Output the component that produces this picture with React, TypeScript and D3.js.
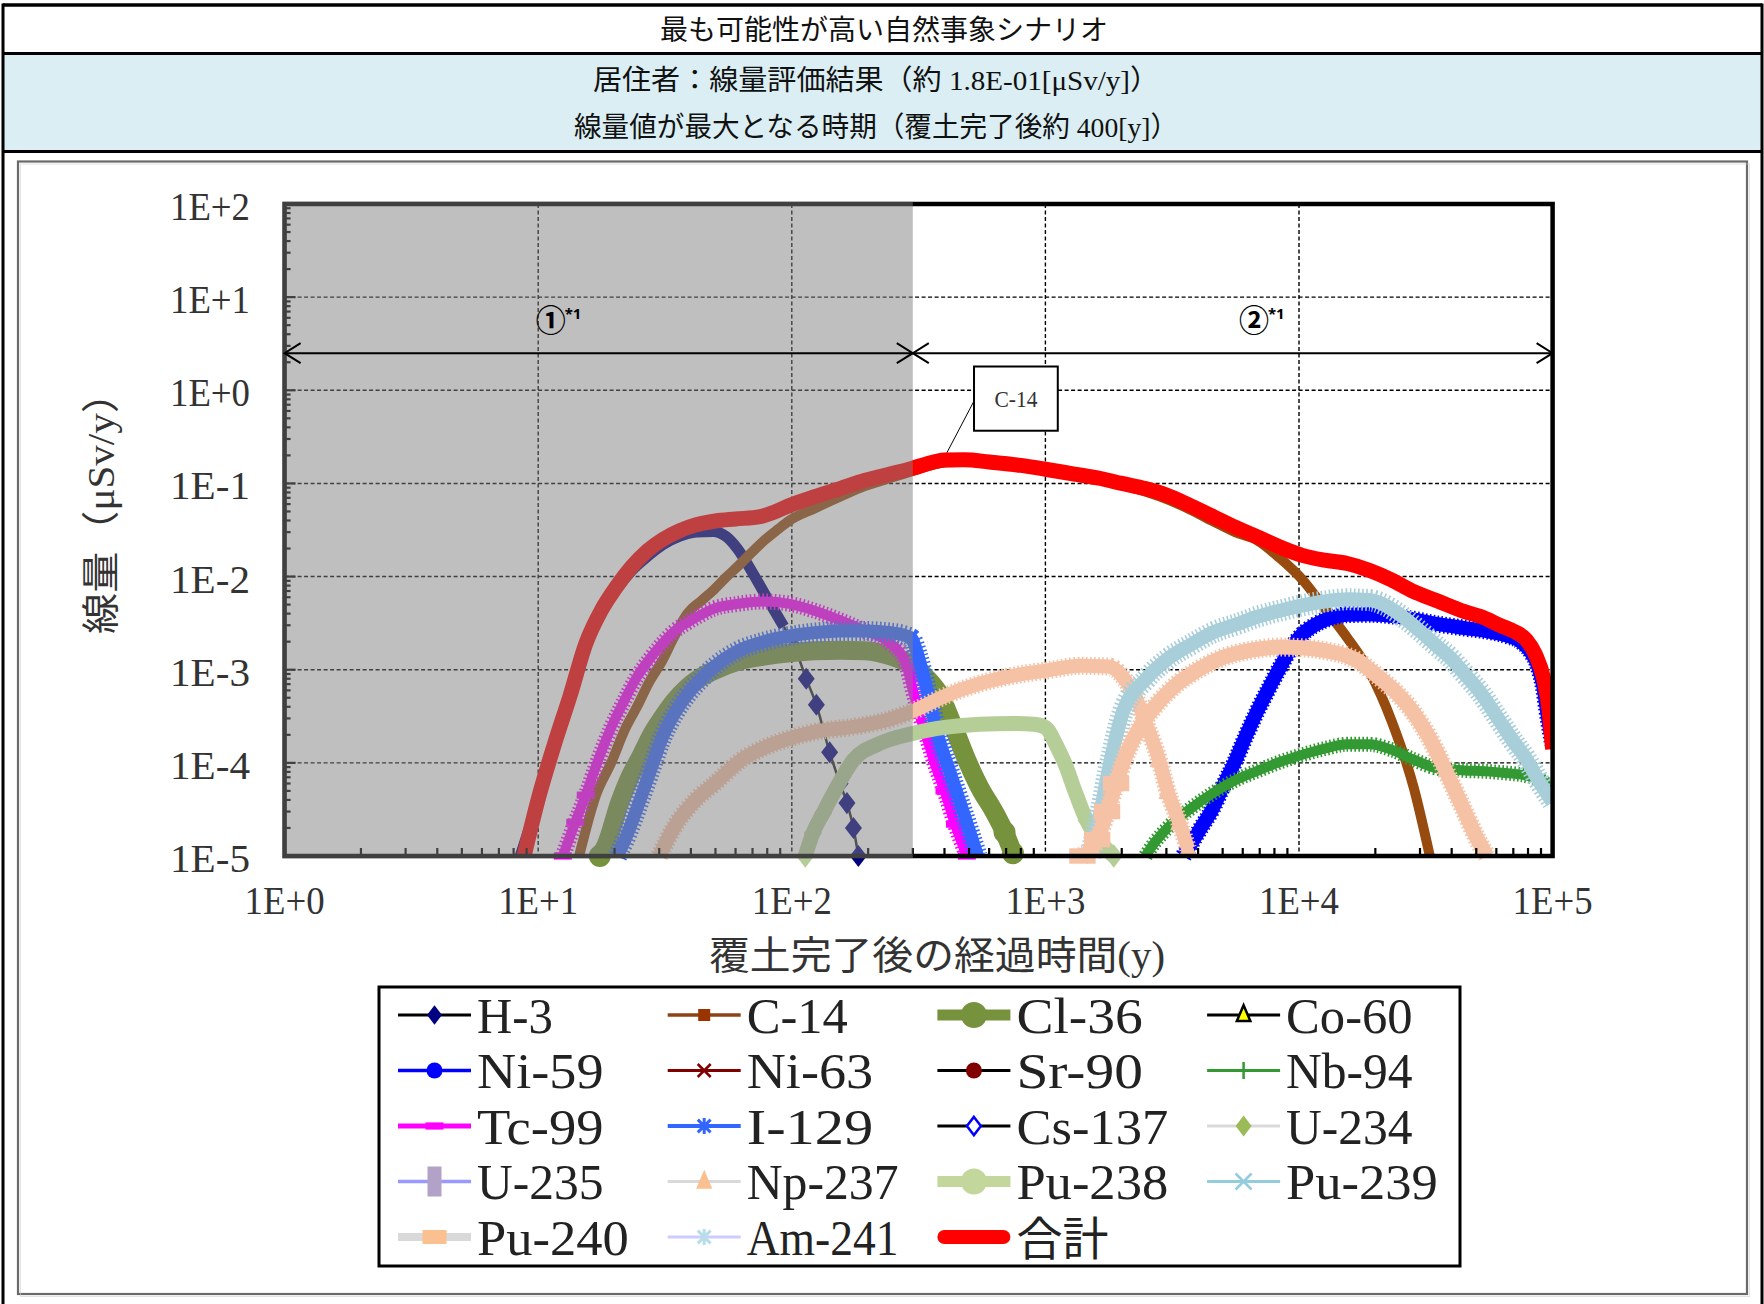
import React from 'react';
import * as d3 from 'd3';

type Pt = [number, number];

// ---------------- axis ticks ----------------
const xTickValues = [1, 10, 100, 1000, 10000, 100000];
const xTickLabels = ['1E+0', '1E+1', '1E+2', '1E+3', '1E+4', '1E+5'];
const yTickValues = [100, 10, 1, 0.1, 0.01, 0.001, 0.0001, 0.00001];
const yTickLabels = ['1E+2', '1E+1', '1E+0', '1E-1', '1E-2', '1E-3', '1E-4', '1E-5'];

// ---------------- categories ----------------
const nuclideNames = [
  'H-3', 'C-14', 'Cl-36', 'Co-60',
  'Ni-59', 'Ni-63', 'Sr-90', 'Nb-94',
  'Tc-99', 'I-129', 'Cs-137', 'U-234',
  'U-235', 'Np-237', 'Pu-238', 'Pu-239',
  'Pu-240', 'Am-241', '合計',
];

// ---------------- series values [years, dose µSv/y] ----------------
const h3Data: Pt[] = [
  [8.5, 1e-5], [10.1, 4.3e-5], [11.6, 1.5e-4], [13.4, 5.2e-4], [15.4, 1.8e-3], [17.7, 4.0e-3],
  [20.3, 7.2e-3], [23.3, 1.15e-2], [27, 1.65e-2], [31, 2.2e-2], [36, 2.7e-2], [42, 3.0e-2],
  [49, 3.05e-2], [55, 2.7e-2], [61, 2.0e-2], [70, 1.1e-2], [81, 5.5e-3], [93, 2.9e-3],
  [103, 1.7e-3], [114, 8e-4], [125, 4.2e-4], [141, 1.3e-4], [155, 6e-5], [165, 3.7e-5],
  [175, 2e-5], [183, 1e-5],
];
const c14Data: Pt[] = [
  [14.5, 1e-5], [16.9, 4.5e-5], [19.4, 1.0e-4], [22, 2.3e-4], [24.4, 3.9e-4], [27.5, 7.5e-4],
  [30.8, 1.24e-3], [34.5, 2.3e-3], [38.7, 4e-3], [44, 5.5e-3], [49, 7.1e-3], [55, 9.8e-3],
  [61.5, 1.3e-2], [70, 1.85e-2], [78, 2.45e-2], [88, 3.2e-2], [98, 4.0e-2], [123, 5.4e-2],
  [155, 7.2e-2], [195, 9.4e-2], [246, 0.115], [300, 0.136], [350, 0.155], [410, 0.169],
  [500, 0.171], [600, 0.164], [800, 0.151], [1000, 0.138], [1300, 0.121], [1700, 0.107],
  [2200, 0.09], [2800, 0.073], [3700, 0.053], [4600, 0.039], [5600, 0.03], [6850, 0.0245],
  [8400, 0.0158], [10300, 9.3e-3], [12600, 4.6e-3], [15500, 2.2e-3], [18900, 9.7e-4],
  [23200, 2.8e-4], [28400, 5.3e-5], [32800, 1e-5],
];
const cl36Data: Pt[] = [
  [17.5, 1e-5], [18.5, 1.3e-5], [21, 3.8e-5], [23, 7e-5], [25.6, 1.22e-4], [28, 2e-4],
  [30.8, 3e-4], [34.5, 4.6e-4], [38.7, 6.4e-4], [43, 8e-4], [48.9, 9.7e-4], [61.5, 1.24e-3],
  [77.6, 1.4e-3], [98, 1.52e-3], [123, 1.6e-3], [155, 1.62e-3], [195, 1.6e-3], [246, 1.4e-3],
  [300, 1.1e-3], [350, 7.5e-4], [380, 5.6e-4], [430, 2.6e-4], [490, 1.07e-4], [560, 5e-5],
  [623, 3.1e-5], [690, 1.8e-5], [745, 1.07e-5],
];
const co60Data: Pt[] = [];
const ni59Data: Pt[] = [
  [3500, 1e-5], [3720, 1.3e-5], [4100, 2e-5], [4560, 3.2e-5], [5000, 5.5e-5], [5590, 1.03e-4],
  [6200, 2e-4], [6850, 3.6e-4], [7600, 6.3e-4], [8400, 1.05e-3], [9300, 1.7e-3], [10300, 2.4e-3],
  [11500, 3.0e-3], [12600, 3.4e-3], [15500, 3.9e-3], [18900, 3.95e-3], [23000, 3.8e-3],
  [28000, 3.5e-3], [35000, 3.1e-3], [45000, 2.8e-3], [55000, 2.6e-3], [65000, 2.35e-3],
  [75000, 2.0e-3], [82000, 1.55e-3], [88000, 1.05e-3], [92000, 6.5e-4], [96000, 3e-4],
  [100000, 1.6e-4],
];
const ni63Data: Pt[] = [];
const sr90Data: Pt[] = [];
const nb94Data: Pt[] = [
  [2480, 1e-5], [2700, 1.4e-5], [3030, 2e-5], [3720, 3.2e-5], [4560, 4.7e-5], [5600, 6.5e-5],
  [6850, 8.2e-5], [8400, 1.02e-4], [10300, 1.22e-4], [12600, 1.42e-4], [15500, 1.58e-4],
  [18900, 1.58e-4], [23200, 1.38e-4], [28400, 1.08e-4], [34900, 8.8e-5], [45000, 8.3e-5],
  [55000, 8.1e-5], [65000, 7.8e-5], [78700, 7.3e-5], [90000, 6.5e-5], [100000, 5e-5],
];
const tc99Data: Pt[] = [
  [12.5, 1e-5], [14, 2.3e-5], [15.4, 4.5e-5], [17.3, 1.1e-4], [19.4, 2.4e-4], [21.8, 4.6e-4],
  [24.4, 8.2e-4], [27.5, 1.3e-3], [30.8, 1.9e-3], [34.5, 2.6e-3], [38.7, 3.2e-3], [44, 3.9e-3],
  [49, 4.5e-3], [61.5, 5.1e-3], [77.6, 5.4e-3], [98, 5.1e-3], [123, 4.3e-3], [155, 3.4e-3],
  [195, 2.6e-3], [246, 1.9e-3], [281, 1.2e-3], [300, 6e-4], [320, 3.2e-4], [340, 1.9e-4],
  [370, 9e-5], [400, 5e-5], [440, 2.2e-5], [490, 1e-5],
];
const i129Data: Pt[] = [
  [20.5, 1e-5], [22, 1.5e-5], [25.6, 4.5e-5], [28, 9e-5], [30.8, 1.85e-4], [34.5, 3.4e-4],
  [38.7, 5.4e-4], [44, 8e-4], [48.9, 1.05e-3], [61.5, 1.6e-3], [77.6, 2.0e-3], [98, 2.3e-3],
  [123, 2.5e-3], [155, 2.6e-3], [195, 2.6e-3], [246, 2.5e-3], [295, 2.2e-3], [315, 1.4e-3],
  [335, 7.5e-4], [355, 3.8e-4], [380, 1.8e-4], [420, 8e-5], [470, 3.2e-5], [540, 1e-5],
];
const cs137Data: Pt[] = [];
const u234Data: Pt[] = [
  [113, 1e-5], [121, 1.75e-5], [133, 2.9e-5], [146, 4.7e-5], [175, 1.07e-4], [223, 1.62e-4],
  [300, 2.07e-4], [400, 2.4e-4], [550, 2.6e-4], [750, 2.65e-4], [900, 2.6e-4], [1000, 2.4e-4],
  [1110, 1.5e-4], [1200, 9.5e-5], [1290, 5.5e-5], [1455, 2.4e-5], [1650, 1.4e-5], [1860, 1e-5],
];
const u235Data: Pt[] = [];
const np237Data: Pt[] = [
  [30, 1e-5], [34.6, 2.1e-5], [42.5, 4.2e-5], [49, 5.8e-5], [64, 1.1e-4], [78, 1.46e-4],
  [96, 1.8e-4], [123, 2.15e-4], [177, 2.45e-4], [240, 2.9e-4], [300, 3.6e-4], [400, 5.2e-4],
  [552, 7.1e-4], [740, 8.6e-4], [1012, 9.8e-4], [1370, 1.1e-3], [1780, 1.08e-3], [2060, 7.8e-4],
  [2270, 5e-4], [2500, 2.6e-4], [2800, 1.1e-4], [3030, 5e-5], [3370, 2.3e-5], [3650, 1.2e-5],
];
const pu238Data: Pt[] = [];
const pu239Data: Pt[] = [
  [1500, 1e-5], [1650, 3e-5], [1800, 1e-4], [2020, 3.5e-4], [2500, 8e-4], [3030, 1.3e-3],
  [3800, 1.9e-3], [4560, 2.5e-3], [5730, 3.1e-3], [6850, 3.7e-3], [8400, 4.3e-3], [10300, 4.9e-3],
  [12600, 5.4e-3], [15500, 5.7e-3], [18900, 5.6e-3], [21600, 5.0e-3], [25000, 3.9e-3],
  [30000, 2.6e-3], [34900, 1.8e-3], [40000, 1.3e-3], [45000, 9e-4], [52400, 5.5e-4],
  [60000, 3.2e-4], [70000, 1.7e-4], [78700, 1.1e-4], [88000, 6.5e-5], [100000, 3.8e-5],
];
const pu240Data: Pt[] = [
  [1400, 1e-5], [1600, 1.5e-5], [1750, 3e-5], [1900, 6e-5], [2100, 1.3e-4], [2400, 2.6e-4],
  [2800, 4.5e-4], [3300, 7e-4], [4000, 1e-3], [5000, 1.35e-3], [6500, 1.62e-3], [8400, 1.75e-3],
  [10300, 1.72e-3], [13000, 1.58e-3], [15500, 1.4e-3], [17600, 1.18e-3], [19000, 1.0e-3],
  [21000, 8e-4], [24000, 5.8e-4], [28400, 3.4e-4], [32500, 1.9e-4], [36000, 1.1e-4],
  [40000, 6e-5], [45000, 3e-5], [50000, 1.6e-5], [55000, 1e-5],
];
const am241Data: Pt[] = [];
const totalData: Pt[] = [
  [8.8, 1e-5], [10.1, 4.5e-5], [11.6, 1.6e-4], [13.4, 5.4e-4], [15.4, 1.9e-3], [17.7, 4.3e-3],
  [20.3, 7.7e-3], [23.3, 1.26e-2], [27, 1.9e-2], [31, 2.5e-2], [36, 3.1e-2], [42, 3.6e-2],
  [50, 3.95e-2], [60, 4.15e-2], [75, 4.4e-2], [85, 4.9e-2], [98, 5.8e-2], [123, 7.2e-2],
  [155, 8.8e-2], [195, 0.108], [246, 0.127], [300, 0.146], [340, 0.162], [400, 0.178],
  [480, 0.18], [600, 0.17], [800, 0.156], [1000, 0.142], [1300, 0.126], [1650, 0.113],
  [2000, 0.1], [2480, 0.088], [3000, 0.075], [3720, 0.058], [4600, 0.044], [5590, 0.034],
  [7000, 0.026], [8400, 0.0208], [10300, 0.0169], [12600, 0.015], [15500, 0.0138],
  [18900, 0.0117], [23200, 0.0092], [28000, 0.007], [35000, 0.0055], [45000, 0.0042],
  [52400, 0.0037], [62000, 0.003], [70000, 0.0026], [78700, 0.0021], [85300, 0.00148],
  [92400, 7.8e-4], [97000, 3.5e-4], [100000, 1.4e-4],
];

const seriesData: Pt[][] = [
  h3Data, c14Data, cl36Data, co60Data,
  ni59Data, ni63Data, sr90Data, nb94Data,
  tc99Data, i129Data, cs137Data, u234Data,
  u235Data, np237Data, pu238Data, pu239Data,
  pu240Data, am241Data, totalData,
];

// ---------------- annotation values ----------------
const periodBoundary = 300; // years
const arrowLevel = 2.5; // µSv/y
const periodLabel1: Pt = [11.2, 5.7];
const periodLabel2: Pt = [6640, 5.7];
const calloutBox = { x0: 523, x1: 1119, y0: 1.8, y1: 0.368 };
const calloutLeader: [Pt, Pt] = [[523, 0.767], [409, 0.214]];

// ---------------- styles ----------------
const PLOT_LEFT = 284.6;
const PLOT_RIGHT = 1552.6;
const PLOT_TOP = 204;
const PLOT_BOTTOM = 856;

const SERIF = "'Liberation Serif', 'Noto Sans CJK JP', serif";
const CJK = "'Liberation Serif', 'Noto Sans CJK JP', sans-serif";

type PlotStyle = {
  color?: string; width?: number; cap?: string; tailFrom?: number;
  teeth?: number; endMark?: string; endSize?: number; headN?: number; tailN?: number;
};
const plotStyles: PlotStyle[] = [
  { color: '#000080', width: 11, tailFrom: 100 },
  { color: '#974B0E', width: 10 },
  { color: '#76923C', width: 19, cap: 'round', endMark: 'circle', endSize: 22, headN: 1, tailN: 2 },
  {},
  { color: '#0000FF', width: 14, teeth: 3 },
  {}, {},
  { color: '#339933', width: 10, teeth: 5 },
  { color: '#FF00FF', width: 10, teeth: 6, endMark: 'dash', endSize: 18, headN: 3, tailN: 3 },
  { color: '#3366FF', width: 13, teeth: 7 },
  {},
  { color: '#B5CD97', width: 15, endMark: 'diamond', endSize: 18, headN: 3, tailN: 3 },
  {},
  { color: '#F6C2A6', width: 14, teeth: 4, endMark: 'triangle', endSize: 20, headN: 0, tailN: 4 },
  {},
  { color: '#A8CEDA', width: 14, teeth: 8 },
  { color: '#F6C2A6', width: 15, teeth: 4, endMark: 'widerect', endSize: 22, headN: 4, tailN: 0 },
  {},
  { color: '#FF0000', width: 15 },
];

type LegendStyle = { line: string; lw: number; mark: string; fill: string; size: number; stroke?: string; sw?: number; cap?: string };
const legendStyles: LegendStyle[] = [
  { line: '#000000', lw: 3, mark: 'diamond', fill: '#000080', size: 15 },
  { line: '#8B4513', lw: 3.5, mark: 'square', fill: '#993300', size: 12 },
  { line: '#76923C', lw: 11, mark: 'circle', fill: '#76923C', size: 26 },
  { line: '#000000', lw: 3, mark: 'triangle', fill: '#FFFF00', stroke: '#000', sw: 2.5, size: 15 },
  { line: '#0000FF', lw: 3.5, mark: 'circle', fill: '#0000FF', size: 16 },
  { line: '#800000', lw: 3, mark: 'x', fill: '#800000', size: 13 },
  { line: '#000000', lw: 3, mark: 'circle', fill: '#800000', size: 16 },
  { line: '#339933', lw: 3, mark: 'plus', fill: '#339933', size: 17 },
  { line: '#FF00FF', lw: 5, mark: 'dash', fill: '#FF00FF', size: 18 },
  { line: '#3366FF', lw: 4, mark: 'star', fill: '#3366FF', size: 16 },
  { line: '#000000', lw: 3, mark: 'diamond', fill: '#FFFFFF', stroke: '#0000FF', sw: 2.5, size: 14 },
  { line: '#D9D9D9', lw: 3, mark: 'diamond', fill: '#9BBB59', size: 16 },
  { line: '#9999FF', lw: 3.5, mark: 'tallrect', fill: '#B3A2C7', size: 20 },
  { line: '#D9D9D9', lw: 3, mark: 'triangle', fill: '#FAC090', size: 18 },
  { line: '#C3D69B', lw: 11, mark: 'circle', fill: '#C3D69B', size: 26 },
  { line: '#93CDDD', lw: 3, mark: 'x', fill: '#93CDDD', size: 16 },
  { line: '#D9D9D9', lw: 8, mark: 'widerect', fill: '#FAC090', size: 20 },
  { line: '#CCCCFF', lw: 3, mark: 'star', fill: '#B7DEE8', size: 16 },
  { line: '#FF0000', lw: 14, mark: 'none', fill: '#FF0000', size: 0, cap: 'round' },
];

function Marker(props: { type: string; cx: number; cy: number; s: number; fill: string; stroke?: string; sw?: number }) {
  const { type, cx, cy, s, fill } = props;
  const stroke = props.stroke || 'none';
  const sw = props.sw || 0;
  const h = s / 2;
  switch (type) {
    case 'diamond':
      return <polygon points={`${cx},${cy - s * 0.65} ${cx + h},${cy} ${cx},${cy + s * 0.65} ${cx - h},${cy}`} fill={fill} stroke={stroke} strokeWidth={sw} />;
    case 'square':
      return <rect x={cx - h} y={cy - h} width={s} height={s} fill={fill} />;
    case 'tallrect':
      return <rect x={cx - s * 0.35} y={cy - s * 0.75} width={s * 0.7} height={s * 1.5} fill={fill} />;
    case 'widerect':
      return <rect x={cx - s * 0.6} y={cy - s * 0.35} width={s * 1.2} height={s * 0.7} fill={fill} />;
    case 'circle':
      return <circle cx={cx} cy={cy} r={h} fill={fill} />;
    case 'triangle':
      return <polygon points={`${cx},${cy - s * 0.65} ${cx + s * 0.45},${cy + s * 0.4} ${cx - s * 0.45},${cy + s * 0.4}`} fill={fill} stroke={stroke} strokeWidth={sw} strokeLinejoin="miter" />;
    case 'x':
      return <path d={`M${cx - h},${cy - h}L${cx + h},${cy + h}M${cx + h},${cy - h}L${cx - h},${cy + h}`} stroke={fill} strokeWidth={2.5} />;
    case 'plus':
      return <path d={`M${cx - h},${cy}L${cx + h},${cy}M${cx},${cy - h}L${cx},${cy + h}`} stroke={fill} strokeWidth={2.5} />;
    case 'star':
      return <path d={`M${cx - h * 0.8},${cy - h * 0.8}L${cx + h * 0.8},${cy + h * 0.8}M${cx + h * 0.8},${cy - h * 0.8}L${cx - h * 0.8},${cy + h * 0.8}M${cx},${cy - h}L${cx},${cy + h}`} stroke={fill} strokeWidth={3} />;
    case 'dash':
      return <rect x={cx - h} y={cy - s * 0.2} width={s} height={s * 0.4} fill={fill} />;
    default:
      return null;
  }
}

export default function App() {
  const xs = d3.scaleLog().domain([1, 1e5]).range([PLOT_LEFT, PLOT_RIGHT]);
  const ys = d3.scaleLog().domain([1e-5, 1e2]).range([PLOT_BOTTOM, PLOT_TOP]);
  const lineGen = d3.line<Pt>().x((d) => xs(d[0])).y((d) => ys(d[1])).curve(d3.curveMonotoneX);

  const xMinor = xs.ticks().filter((v) => !xTickValues.includes(v));
  const yMinor = ys.ticks().filter((v) => !yTickValues.includes(v));

  const ya = ys(arrowLevel);
  const xb = xs(periodBoundary);
  const ah = 16;
  const aw = 10;

  const legendColX = (c: number) => 398 + c * 269.7;
  const legendRowY = (r: number) => 1015 + r * 55.5;

  return (
    <svg width={1764} height={1304} viewBox="0 0 1764 1304" style={{ position: 'absolute', left: 0, top: 0, background: '#fff' }}>
      <defs>
        <clipPath id="plotClip">
          <rect x={PLOT_LEFT} y={PLOT_TOP} width={PLOT_RIGHT - PLOT_LEFT} height={PLOT_BOTTOM - PLOT_TOP + 12} />
        </clipPath>
      </defs>
      <rect x={0} y={0} width={1764} height={1304} fill="#fff" />

      {/* ---------- header table ---------- */}
      <rect x={3} y={54.5} width={1759} height={96} fill="#DAEEF3" />
      <line x1={3} x2={1762} y1={5} y2={5} stroke="#000" strokeWidth={3.5} />
      <line x1={3} x2={1762} y1={53.5} y2={53.5} stroke="#000" strokeWidth={3} />
      <line x1={3} x2={1762} y1={151.5} y2={151.5} stroke="#000" strokeWidth={3} />
      <line x1={3} x2={3} y1={3.5} y2={1304} stroke="#000" strokeWidth={3} />
      <line x1={1762} x2={1762} y1={3.5} y2={1304} stroke="#000" strokeWidth={3} />
      <text x={884} y={40} textAnchor="middle" fontFamily={CJK} fontSize={28} fill="#111" textLength={448} lengthAdjust="spacingAndGlyphs">最も可能性が高い自然事象シナリオ</text>
      <text x={876} y={89.5} textAnchor="middle" fontFamily={CJK} fontSize={28} fill="#111" textLength={566} lengthAdjust="spacingAndGlyphs">居住者：線量評価結果（約 1.8E-01[μSv/y]）</text>
      <text x={876} y={136.5} textAnchor="middle" fontFamily={CJK} fontSize={28} fill="#111" textLength={604} lengthAdjust="spacingAndGlyphs">線量値が最大となる時期（覆土完了後約 400[y]）</text>

      {/* ---------- chart frame ---------- */}
      <rect x={18} y={161.5} width={1729} height={1132.5} fill="none" stroke="#6a6a6a" strokeWidth={2.2} />
      <rect x={20.5} y={164} width={1729} height={1132.5} fill="none" stroke="#d0d0d0" strokeWidth={1} opacity={0.6} />

      {/* ---------- gridlines ---------- */}
      <g stroke="#000" strokeWidth={1.4} strokeDasharray="4 2.5">
        {yTickValues.slice(1, -1).map((v) => (
          <line key={'gy' + v} x1={PLOT_LEFT} x2={PLOT_RIGHT} y1={ys(v)} y2={ys(v)} />
        ))}
        {xTickValues.slice(1, -1).map((v) => (
          <line key={'gx' + v} x1={xs(v)} x2={xs(v)} y1={PLOT_TOP} y2={PLOT_BOTTOM} />
        ))}
      </g>

      {/* ---------- series ---------- */}
      <g clipPath="url(#plotClip)" fill="none">
        {seriesData.map((data, i) => {
          const st = plotStyles[i];
          if (!data.length || !st.color) return null;
          if (st.tailFrom) {
            const band = data.filter((d) => d[0] <= st.tailFrom!);
            const tail = data.filter((d) => d[0] >= band[band.length - 1][0]);
            return (
              <g key={nuclideNames[i]}>
                <path d={lineGen(band) || ''} stroke={st.color} strokeWidth={st.width} strokeLinejoin="round" />
                <path d={lineGen(tail) || ''} stroke="#222" strokeWidth={2.5} />
                {tail.slice(1).map((d, k) => (
                  <Marker key={k} type="diamond" cx={xs(d[0])} cy={ys(d[1])} s={17} fill={st.color!} />
                ))}
              </g>
            );
          }
          const d = lineGen(data) || '';
          const ends: Pt[] = st.endMark
            ? [...data.slice(0, st.headN || 0), ...data.slice(data.length - (st.tailN || 0))]
            : [];
          return (
            <g key={nuclideNames[i]}>
              {st.teeth ? (
                <path d={d} stroke={st.color} strokeWidth={st.width! + st.teeth} strokeDasharray="1.6 2.4" />
              ) : null}
              <path d={d} stroke={st.color} strokeWidth={st.width}
                strokeLinejoin="round" strokeLinecap={(st.cap as any) || 'butt'} />
              {ends.map((p, k) => (
                <Marker key={k} type={st.endMark!} cx={xs(p[0])} cy={ys(p[1])} s={st.endSize!} fill={st.color!} />
              ))}
            </g>
          );
        })}
      </g>

      {/* ---------- axes frame & ticks ---------- */}
      <g stroke="#000" strokeWidth={2.2}>
        {yTickValues.map((v) => (
          <line key={'ty' + v} x1={PLOT_LEFT} x2={PLOT_LEFT + 11} y1={ys(v)} y2={ys(v)} />
        ))}
        {yMinor.map((v) => (
          <line key={'tym' + v} x1={PLOT_LEFT} x2={PLOT_LEFT + 6} y1={ys(v)} y2={ys(v)} />
        ))}
        {xMinor.map((v) => (
          <line key={'txm' + v} x1={xs(v)} x2={xs(v)} y1={PLOT_BOTTOM} y2={PLOT_BOTTOM - 8} />
        ))}
      </g>
      <rect x={PLOT_LEFT} y={PLOT_TOP} width={PLOT_RIGHT - PLOT_LEFT} height={PLOT_BOTTOM - PLOT_TOP}
        fill="none" stroke="#000" strokeWidth={4.5} />

      {/* ---------- shaded period ① ---------- */}
      <rect x={PLOT_LEFT - 2.3} y={PLOT_TOP - 2.3} width={xb - PLOT_LEFT + 2.3} height={PLOT_BOTTOM - PLOT_TOP + 4.6}
        fill="#808080" opacity={0.5} />

      {/* ---------- period arrows ---------- */}
      <g stroke="#000" strokeWidth={2} fill="none">
        <line x1={xs(1)} x2={xs(1e5)} y1={ya} y2={ya} />
        <polyline points={`${xs(1) + ah},${ya - aw} ${xs(1)},${ya} ${xs(1) + ah},${ya + aw}`} />
        <polyline points={`${xb - ah},${ya - aw} ${xb},${ya} ${xb - ah},${ya + aw}`} />
        <polyline points={`${xb + ah},${ya - aw} ${xb},${ya} ${xb + ah},${ya + aw}`} />
        <polyline points={`${xs(1e5) - ah},${ya - aw} ${xs(1e5)},${ya} ${xs(1e5) - ah},${ya + aw}`} />
      </g>
      {[periodLabel1, periodLabel2].map((p, i) => (
        <g key={'pl' + i}>
          <text x={xs(p[0])} y={ys(p[1]) + 11} textAnchor="middle" fontFamily="'Noto Sans CJK JP', sans-serif" fontWeight={700} fontSize={30} fill="#000">{i === 0 ? '①' : '②'}</text>
          <text x={xs(p[0]) + 14} y={ys(p[1]) - 1} fontFamily="'Noto Sans', sans-serif" fontWeight={700} fontSize={15} fill="#000">*1</text>
        </g>
      ))}

      {/* ---------- C-14 callout ---------- */}
      <line x1={xs(calloutLeader[0][0])} y1={ys(calloutLeader[0][1])} x2={xs(calloutLeader[1][0])} y2={ys(calloutLeader[1][1])} stroke="#000" strokeWidth={1} />
      <rect x={xs(calloutBox.x0)} y={ys(calloutBox.y0)} width={xs(calloutBox.x1) - xs(calloutBox.x0)} height={ys(calloutBox.y1) - ys(calloutBox.y0)}
        fill="#fff" stroke="#000" strokeWidth={2} />
      <text x={(xs(calloutBox.x0) + xs(calloutBox.x1)) / 2} y={(ys(calloutBox.y0) + ys(calloutBox.y1)) / 2 + 8}
        textAnchor="middle" fontFamily={SERIF} fontSize={24} fill="#333" textLength={43} lengthAdjust="spacingAndGlyphs">C-14</text>

      {/* ---------- tick labels ---------- */}
      {xTickValues.map((v, i) => (
        <text key={'xl' + v} x={xs(v)} y={PLOT_BOTTOM + 58} textAnchor="middle" fontFamily={SERIF} fontSize={41} fill="#333"
          textLength={80} lengthAdjust="spacingAndGlyphs">{xTickLabels[i]}</text>
      ))}
      {yTickValues.map((v, i) => (
        <text key={'yl' + v} x={250} y={ys(v) + 16} textAnchor="end" fontFamily={SERIF} fontSize={41} fill="#333"
          textLength={80} lengthAdjust="spacingAndGlyphs">{yTickLabels[i]}</text>
      ))}

      {/* ---------- axis titles ---------- */}
      <text x={937} y={969} textAnchor="middle" fontFamily={CJK} fontSize={39} fill="#333" textLength={456} lengthAdjust="spacingAndGlyphs">覆土完了後の経過時間(y)</text>
      <g transform="translate(114,503) rotate(-90)">
        <text x={0} y={0} textAnchor="middle" fontFamily={CJK} fontSize={38} fill="#333" textLength={262} lengthAdjust="spacingAndGlyphs">線量（μSv/y）</text>
      </g>

      {/* ---------- legend ---------- */}
      <rect x={379} y={987} width={1081} height={279} fill="#fff" stroke="#000" strokeWidth={3} />
      {nuclideNames.map((name, i) => {
        const c = i % 4;
        const r = Math.floor(i / 4);
        const lx = legendColX(c);
        const ly = legendRowY(r);
        const st = legendStyles[i];
        const isCjk = /[^\x00-\x7F]/.test(name);
        return (
          <g key={'lg' + name}>
            <line x1={lx + (st.cap ? 7 : 0)} x2={lx + 73 - (st.cap ? 7 : 0)} y1={ly} y2={ly} stroke={st.line} strokeWidth={st.lw}
              strokeLinecap={(st.cap as any) || 'butt'} />
            <Marker type={st.mark} cx={lx + 36.5} cy={ly} s={st.size} fill={st.fill} stroke={st.stroke} sw={st.sw} />
            <text x={lx + 79} y={ly + 17.5} fontFamily={isCjk ? CJK : SERIF} fontSize={isCjk ? 46 : 50} fill="#222"
              textLength={isCjk ? 92 : name.length * 25.3} lengthAdjust="spacingAndGlyphs">{name}</text>
          </g>
        );
      })}
    </svg>
  );
}
